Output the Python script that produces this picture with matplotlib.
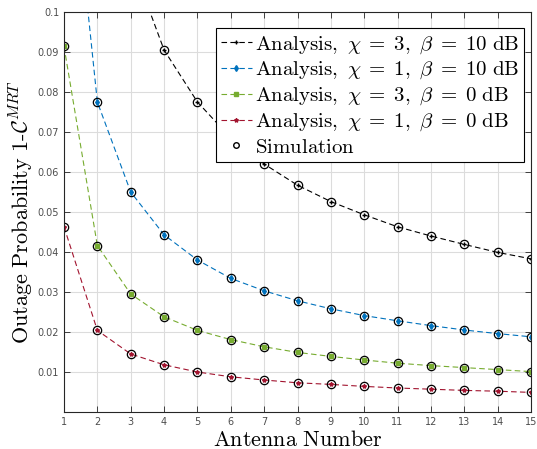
import matplotlib
matplotlib.use('Agg')
import matplotlib.pyplot as plt
import numpy as np

plt.rcParams['mathtext.fontset'] = 'cm'

# antenna number
N = np.arange(1, 16)

# outage probability
p_x3_b10 = [0.27, 0.16, 0.113, 0.0905, 0.0775, 0.0685, 0.062, 0.0567, 0.0526,
            0.0493, 0.0463, 0.044, 0.0419, 0.0399, 0.0383]
p_x1_b10 = [0.158, 0.0775, 0.055, 0.0443, 0.038, 0.0334, 0.0303, 0.0278, 0.0258,
            0.0241, 0.0228, 0.0216, 0.0205, 0.0196, 0.0188]
p_x3_b0 = [0.0914, 0.0416, 0.0295, 0.0238, 0.0204, 0.0181, 0.0163, 0.0149, 0.0139,
           0.0130, 0.0122, 0.0116, 0.0111, 0.0106, 0.0101]
p_x1_b0 = [0.0463, 0.0204, 0.0145, 0.0118, 0.0100, 0.0088, 0.0080, 0.0073, 0.0069,
           0.0064, 0.0060, 0.0057, 0.0054, 0.0052, 0.0049]

labels = [r'$\mathrm{Analysis,}\ \chi\;=\;3,\ \beta\;=\;10\ \mathrm{dB}$',
          r'$\mathrm{Analysis,}\ \chi\;=\;1,\ \beta\;=\;10\ \mathrm{dB}$',
          r'$\mathrm{Analysis,}\ \chi\;=\;3,\ \beta\;=\;0\ \mathrm{dB}$',
          r'$\mathrm{Analysis,}\ \chi\;=\;1,\ \beta\;=\;0\ \mathrm{dB}$']
colors = ['#000000', '#0072BD', '#77AC30', '#A2142F']
markers = ['+', 'd', 's', '*']
series = [p_x3_b10, p_x1_b10, p_x3_b0, p_x1_b0]

fig = plt.figure(figsize=(5.37, 4.49), dpi=100)
ax = fig.add_axes([64/537, 37/449, 467/537, 400/449])

for y, c, m, lab in zip(series, colors, markers, labels):
    ax.plot(N, y, linestyle=(0, (5, 3)), color=c, linewidth=0.8,
            marker=m, markersize=3, markerfacecolor=c, markeredgecolor=c,
            label=lab)
    ax.plot(N, y, linestyle='none', marker='o', markersize=6,
            markerfacecolor='none', markeredgecolor='k', markeredgewidth=0.9)

# dummy handle for simulation in the legend
ax.plot([], [], linestyle='none', marker='o', markersize=4,
        markerfacecolor='none', markeredgecolor='k', label=r'$\mathrm{Simulation}$')

ax.set_xlim(1, 15)
ax.set_ylim(0, 0.1)
ax.set_xticks(N)
ax.set_yticks(np.arange(0.01, 0.101, 0.01))
ax.set_yticklabels(['0.01', '0.02', '0.03', '0.04', '0.05', '0.06', '0.07',
                    '0.08', '0.09', '0.1'])
ax.tick_params(direction='in', top=True, right=True, labelsize=7,
               length=4, width=0.6, colors='#262626')
ax.tick_params(labelcolor='#4d4d4d')
ax.grid(True, color='#dcdcdc', linewidth=0.8)
for s in ax.spines.values():
    s.set_linewidth(0.8)
    s.set_color('#262626')

ax.set_xlabel(r'$\mathrm{Antenna\ Number}$', fontsize=16, labelpad=2)
ax.set_ylabel(r'$\mathrm{Outage\ Probability\ 1\text{-}}\mathcal{C}^{MRT}$',
              fontsize=16, labelpad=1)

leg = ax.legend(loc='upper right', bbox_to_anchor=(0.995, 0.97), fontsize=15,
                frameon=True, fancybox=False, edgecolor='k', framealpha=1,
                handlelength=1.5, handletextpad=0.15, labelspacing=0.17,
                borderpad=0.25, borderaxespad=0.2)
leg.get_frame().set_linewidth(0.8)

fig.savefig('out.png', dpi=100)
